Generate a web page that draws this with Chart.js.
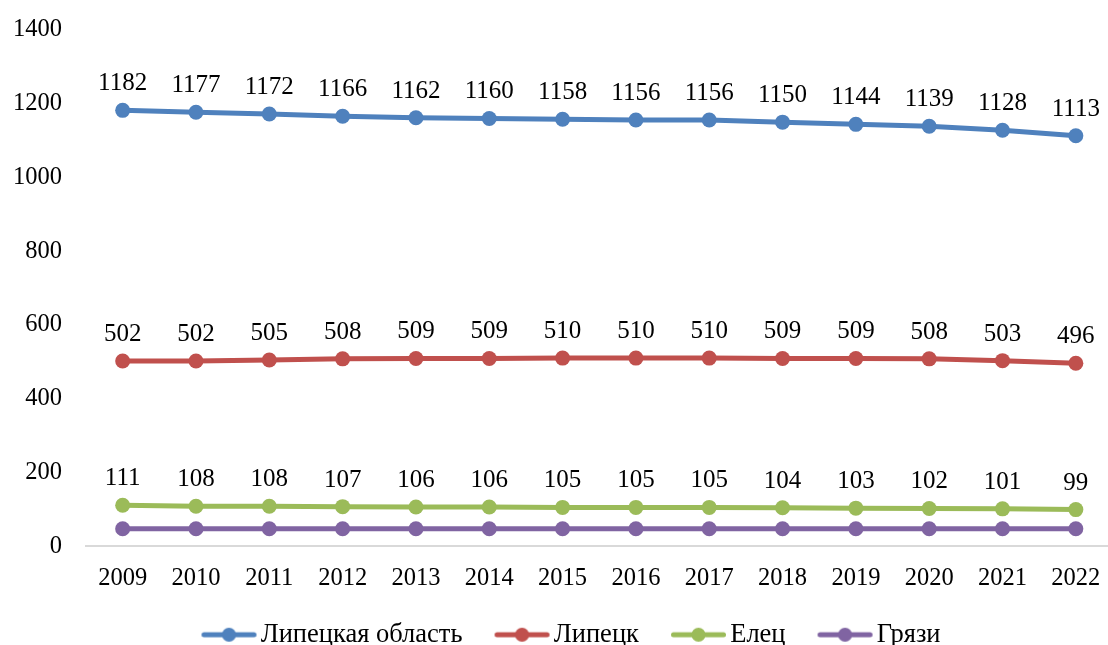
<!DOCTYPE html>
<html><head><meta charset="utf-8">
<script src="https://cdn.jsdelivr.net/npm/chart.js@4/dist/chart.umd.min.js"></script>
<style>html,body{margin:0;padding:0;background:#fff;overflow:hidden;width:1108px;height:645px}
#wrap{position:relative;width:1120px;height:658px}</style>
</head><body><div id="wrap"><canvas id="c"></canvas></div>
<script>
const years = ['2009','2010','2011','2012','2013','2014','2015','2016','2017','2018','2019','2020','2021','2022'];
const lipetskRegion = [1182,1177,1172,1166,1162,1160,1158,1156,1156,1150,1144,1139,1128,1113];
const lipetsk = [502,502,505,508,509,509,510,510,510,509,509,508,503,496];
const yelets = [111,108,108,107,106,106,105,105,105,104,103,102,101,99];
const gryazi = [47,47,47,47,47,47,47,47,47,47,47,47,47,47];
const seriesNames = ['Липецкая область','Липецк','Елец','Грязи'];
const colors = ['#4F81BD','#C0504D','#9BBB59','#8064A2'];
const showLabels = [true,true,true,false];

const FONT = '"Liberation Serif","Times New Roman",serif';
const LEG_FONT = 26.5;
const LEG_BOX = 68;

// legend icon: line (55px) + dot, positioned so the text follows closely
function legendIcon(color){
  const c=document.createElement('canvas'); c.width=92; c.height=16;
  const x=c.getContext('2d');
  x.strokeStyle=color; x.lineWidth=5; x.lineCap='round';
  x.beginPath(); x.moveTo(36.5,8); x.lineTo(86.5,8); x.stroke();
  x.fillStyle=color; x.beginPath(); x.arc(61.5,8,7,0,Math.PI*2); x.fill();
  return c;
}
const icons = colors.map(legendIcon);

const labelPlugin = {
  id:'valLabels',
  afterDatasetsDraw(chart){
    const ctx=chart.ctx;
    ctx.save();
    ctx.font='25px '+FONT; ctx.fillStyle='#000'; ctx.textAlign='center'; ctx.textBaseline='alphabetic';
    chart.data.datasets.forEach((ds,i)=>{
      if(!showLabels[i]) return;
      const meta=chart.getDatasetMeta(i);
      meta.data.forEach((pt,j)=>{
        ctx.fillText(String(ds.data[j]), pt.x, pt.y-20);
      });
    });
    ctx.restore();
  }
};

const data = {
  labels: years,
  datasets: [lipetskRegion,lipetsk,yelets,gryazi].map((d,i)=>({
    label: seriesNames[i], data: d,
    borderColor: colors[i], backgroundColor: colors[i],
    pointBackgroundColor: colors[i], pointBorderColor: colors[i],
    borderWidth: 5, pointRadius: 7.5, pointBorderWidth: 0, pointHoverRadius: 7.5, tension: 0,
    pointStyle: 'circle'
  }))
};

new Chart(document.getElementById('c'), {
  type:'line',
  data,
  options:{
    responsive:true, maintainAspectRatio:false, animation:false,
    devicePixelRatio:1,
    layout:{padding:{top:30,left:0,right:0,bottom:0}},
    plugins:{
      tooltip:{enabled:false},
      legend:{
        position:'bottom',
        labels:{
          font:{family:FONT,size:LEG_FONT}, color:'#000',
          usePointStyle:true, pointStyleWidth:LEG_BOX, padding:10,
          generateLabels(chart){
            return chart.data.datasets.map((ds,i)=>({
              text: ds.label, fillStyle: colors[i], strokeStyle: colors[i],
              lineWidth:0, pointStyle: icons[i], hidden:false, datasetIndex:i, fontColor:'#000'
            }));
          }
        }
      }
    },
    scales:{
      x:{
        offset:true,
        grid:{display:false, drawTicks:false},
        border:{display:true, color:'#d9d9d9', width:2},
        ticks:{font:{family:FONT,size:24.5}, color:'#000', padding:18, maxRotation:0, autoSkip:false},
        afterFit(s){ s.paddingLeft=0; s.paddingRight=0; }
      },
      y:{
        min:0, max:1400,
        grid:{display:false, drawTicks:false},
        border:{display:false},
        ticks:{stepSize:200, font:{family:FONT,size:24.5}, color:'#000', padding:24,
               callback:(v)=>String(v)},
        afterFit(s){ s.width=86; s.paddingTop=0; s.paddingBottom=0; }
      }
    }
  },
  plugins:[labelPlugin]
});
</script></body></html>
